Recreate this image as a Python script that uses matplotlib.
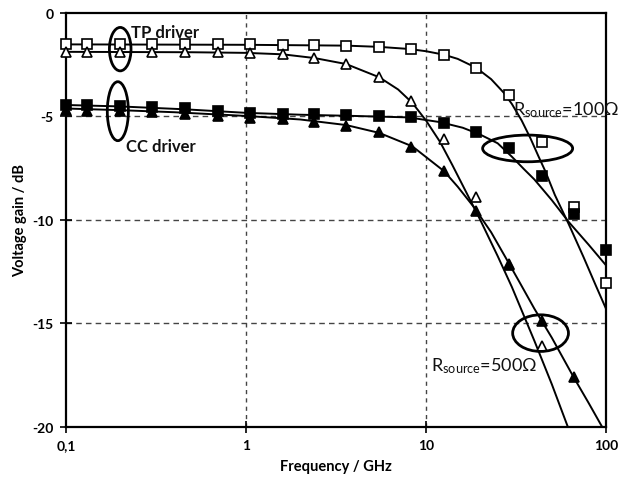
import matplotlib
matplotlib.use('Agg')
import matplotlib.pyplot as plt
from matplotlib.patches import Ellipse
from matplotlib.ticker import FixedLocator, FixedFormatter, NullLocator
import numpy as np

plt.rcParams['font.family'] = ['Lato', 'DejaVu Sans']
plt.rcParams['axes.unicode_minus'] = False
plt.rcParams['mathtext.fontset'] = 'custom'
plt.rcParams['mathtext.rm'] = 'Lato'
plt.rcParams['mathtext.default'] = 'regular'

# measured points (frequency in GHz, gain in dB)
freq = [0.1, 0.13, 0.2, 0.3, 0.46, 0.7, 1.05, 1.6, 2.4, 3.6, 5.5, 8.3, 12.6, 19, 29, 44, 66, 100]
tp_100 = [-1.5, -1.5, -1.5, -1.5, -1.5, -1.52, -1.52, -1.53, -1.55, -1.59, -1.63, -1.76,
          -2.04, -2.66, -3.97, -6.26, -9.4, -13.08]
cc_100 = [-4.45, -4.47, -4.5, -4.55, -4.6, -4.73, -4.85, -4.88, -4.9, -4.93, -4.97, -5.05,
          -5.32, -5.74, -6.53, -7.87, -9.72, -11.47]
tp_500 = [-1.9, -1.9, -1.9, -1.9, -1.9, -1.9, -1.92, -2.0, -2.2, -2.47, -3.11, -4.25,
          -6.1, -8.92, -12.14, -16.12, np.nan, np.nan]
cc_500 = [-4.67, -4.72, -4.75, -4.8, -4.88, -4.97, -5.06, -5.15, -5.27, -5.45, -5.77, -6.5,
          -7.63, -9.56, -12.2, -14.9, -17.62, np.nan]

# fitted curves
fit_tp_100_f = [0.1, 1, 3.6, 5.5, 8, 10, 12.6, 15, 19, 23, 27, 30, 34, 38, 42, 46, 52, 62, 75, 88, 100]
fit_tp_100_db = [-1.52, -1.54, -1.58, -1.64, -1.74, -1.85, -2.02, -2.22, -2.65, -3.2, -3.85, -4.4,
                 -5.2, -6.05, -6.9, -7.65, -8.8, -10.2, -11.8, -13.2, -14.3]
fit_cc_100_f = [0.1, 0.2, 0.46, 1, 2, 4, 8, 12, 16, 20, 25, 30, 35, 40, 50, 62, 80, 100]
fit_cc_100_db = [-4.45, -4.52, -4.66, -4.83, -4.92, -4.98, -5.05, -5.28, -5.55, -5.88, -6.3, -6.95,
                 -7.55, -8.05, -9.05, -10.1, -11.2, -12.2]
fit_tp_500_f = [0.1, 0.5, 1, 1.6, 2.4, 3.6, 5.5, 7, 8.4, 10, 12, 14, 16.8, 20, 25, 30, 40, 50, 61, 70]
fit_tp_500_db = [-1.88, -1.9, -1.93, -2.0, -2.18, -2.47, -3.11, -3.7, -4.35, -5.2, -6.25, -7.35,
                 -8.7, -10.0, -11.75, -13.25, -15.85, -17.95, -19.95, -21.3]
fit_cc_500_f = [0.1, 0.2, 0.4, 1, 2, 3.6, 5.5, 8.4, 12.6, 15, 18.5, 23, 28, 33, 40, 50, 66, 80, 95, 100]
fit_cc_500_db = [-4.62, -4.7, -4.8, -4.98, -5.15, -5.42, -5.8, -6.45, -7.65, -8.4, -9.4, -10.6,
                 -11.9, -13.0, -14.3, -15.7, -17.6, -18.85, -20.0, -20.35]

x_ticks = [0.1, 1, 10, 100]
x_labels = ['0,1', '1', '10', '100']
y_ticks = [0, -5, -10, -15, -20]

fig = plt.figure(figsize=(6.2, 4.81), dpi=100)
ax = fig.add_axes([0.1065, 0.111, 0.8709, 0.86])

ax.set_xscale('log')
ax.set_xlim(0.1, 100)
ax.set_ylim(-20, 0)

# grid
for g in [1, 10]:
    ax.axvline(g, color='#444444', ls=(0, (3, 3)), lw=1.0, zorder=1)
for g in [-5, -10, -15]:
    ax.axhline(g, color='#444444', ls=(0, (4, 3)), lw=1.0, zorder=1)

# fits
lw = 1.4
ax.plot(fit_tp_100_f, fit_tp_100_db, color='black', lw=lw, zorder=2)
ax.plot(fit_cc_100_f, fit_cc_100_db, color='black', lw=lw, zorder=2)
ax.plot(fit_tp_500_f, fit_tp_500_db, color='black', lw=lw, zorder=2)
ax.plot(fit_cc_500_f, fit_cc_500_db, color='black', lw=lw, zorder=2)

# measured
ms = 7
mk = dict(ms=ms, mec='black', mew=1.2, zorder=3, clip_on=False, ls='none')
ax.plot(freq, tp_100, 's', mfc='white', **mk)
ax.plot(freq, cc_100, 's', mfc='black', **mk)
ax.plot(freq, tp_500, '^', mfc='white', **mk)
ax.plot(freq, cc_500, '^', mfc='black', **mk)

# ellipses given as (freq centre, dB centre, width in decades, height in dB) -> axes coords
def ell(fc, yc, wdec, hdb):
    xa = (np.log10(fc) + 1) / 3.0
    ya = (yc + 20) / 20.0
    e = Ellipse((xa, ya), wdec / 3.0, hdb / 20.0, transform=ax.transAxes,
                fill=False, ec='black', lw=2.0, zorder=4)
    ax.add_patch(e)

ell(0.2, -1.75, 0.12, 2.1)
ell(0.194, -4.75, 0.117, 2.85)
ell(36.7, -6.55, 0.5, 1.29)
ell(43.3, -15.48, 0.31, 1.77)

tf = dict(fontsize=12, fontweight='bold', color='#111111', zorder=5)
ax.text(0.23, -1.18, 'TP driver', ha='left', va='baseline', **tf)
ax.text(0.215, -6.66, 'CC driver', ha='left', va='baseline', **tf)
rf = dict(fontsize=13, color='#111111', zorder=5, ha='left', va='baseline')
ax.text(30.3, -4.88, r'R$_{source}$=100Ω', **rf)
ax.text(10.6, -17.27, r'R$_{source}$=500Ω', **rf)

# axes styling
for s in ax.spines.values():
    s.set_linewidth(1.6)
ax.xaxis.set_major_locator(FixedLocator(x_ticks))
ax.xaxis.set_major_formatter(FixedFormatter(x_labels))
ax.xaxis.set_minor_locator(NullLocator())
ax.set_yticks(y_ticks)
ax.set_yticklabels([str(v) for v in y_ticks])
ax.tick_params(direction='inout', length=8, width=1.2, labelsize=10, pad=5)
for lab in ax.get_xticklabels() + ax.get_yticklabels():
    lab.set_fontweight('bold')

ax.set_xlabel('Frequency / GHz', fontsize=10.5, fontweight='bold', labelpad=6)
ax.set_ylabel('Voltage gain / dB', fontsize=10.5, fontweight='bold', labelpad=4)

fig.savefig('out.png', dpi=100)
